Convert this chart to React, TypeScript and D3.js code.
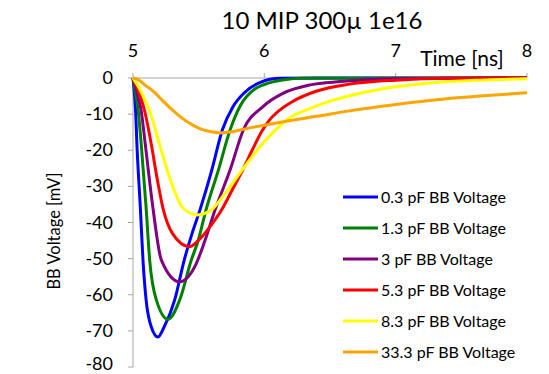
import React from "react";
import * as d3 from "d3";

const seriesNames = [
  "0.3 pF BB Voltage",
  "1.3 pF BB Voltage",
  "3 pF BB Voltage",
  "5.3 pF BB Voltage",
  "8.3 pF BB Voltage",
  "33.3 pF BB Voltage",
];
const seriesColors = ["#0000FF", "#008000", "#800080", "#FF0000", "#FFFF00", "#FFA500"];

const xTicks = [5, 6, 7, 8];
const yTicks = [0, -10, -20, -30, -40, -50, -60, -70, -80];

const blueT = [5.0, 5.01, 5.02, 5.03, 5.056, 5.076, 5.1, 5.14, 5.19, 5.236, 5.317, 5.39, 5.45, 5.51, 5.6, 5.68, 5.76, 5.85, 5.97, 6.12, 6.5, 8.0];
const blueV = [0, -4, -9.2, -18.5, -36, -50.4, -61.5, -69, -71.7, -69, -61.5, -50.4, -43, -36.5, -25.5, -14.4, -8, -4, -1.2, -0.1, 0, 0];

const greenT = [5.0, 5.02, 5.04, 5.063, 5.1, 5.127, 5.178, 5.267, 5.355, 5.444, 5.497, 5.556, 5.65, 5.739, 5.82, 5.93, 6.0, 6.15, 6.3, 8.0];
const greenV = [0, -4.5, -9.2, -18.5, -36, -50.4, -61.5, -66.8, -61.5, -50.4, -44.9, -36.5, -25.5, -14.4, -7.5, -3, -1.8, -0.5, -0.1, 0];

const purpleT = [5.0, 5.03, 5.063, 5.094, 5.152, 5.216, 5.355, 5.42, 5.48, 5.548, 5.625, 5.739, 5.84, 5.99, 6.145, 6.35, 6.58, 7.0, 8.0];
const purpleV = [0, -4, -9.2, -18.5, -36, -50.4, -56.4, -55, -51.5, -45, -36.5, -25.5, -14.4, -7.9, -4.2, -1.9, -1.0, -0.2, 0];

const redT = [5.0, 5.04, 5.089, 5.14, 5.183, 5.228, 5.3, 5.43, 5.51, 5.59, 5.675, 5.755, 5.835, 5.91, 5.98, 6.04, 6.12, 6.22, 6.4, 6.65, 7.0, 7.4, 8.0];
const redV = [0, -3.5, -9.2, -18.5, -27.7, -36, -43, -46.7, -44.5, -41, -36.5, -31, -25.5, -19.8, -14.8, -11.6, -8.8, -6.4, -3.6, -1.7, -0.6, -0.1, 0];

const yellowT = [5.0, 5.05, 5.127, 5.203, 5.28, 5.38, 5.485, 5.58, 5.7, 5.84, 5.99, 6.12, 6.17, 6.35, 6.5, 6.65, 6.88, 7.26, 7.64, 8.0];
const yellowV = [0, -3, -9.2, -18.5, -27.7, -36, -37.9, -37, -32, -25, -18, -13.2, -11.6, -8.4, -6.4, -4.9, -3.1, -1.4, -0.6, -0.2];

const orangeT = [5.0, 5.05, 5.089, 5.152, 5.216, 5.28, 5.343, 5.4, 5.47, 5.53, 5.6, 5.66, 5.75, 5.89, 6.0, 6.145, 6.4, 6.65, 6.88, 7.26, 7.64, 8.0];
const orangeV = [0, -0.7, -1.9, -3.6, -5.9, -8.2, -10.2, -11.8, -13.3, -14.3, -14.9, -15.2, -14.9, -13.8, -13.1, -12.1, -10.6, -9.1, -7.9, -6.2, -5.0, -4.1];

const seriesT = [blueT, greenT, purpleT, redT, yellowT, orangeT];
const seriesV = [blueV, greenV, purpleV, redV, yellowV, orangeV];

const FONT = "Lato, 'Open Sans', sans-serif";

export default function App() {
  const x = d3.scaleLinear().domain([5, 8]).range([133, 527]);
  const y = d3.scaleLinear().domain([0, -80]).range([78, 367]);
  const line = d3
    .line<[number, number]>()
    .x((d) => x(d[0]))
    .y((d) => y(d[1]))
    .curve(d3.curveMonotoneX);

  const axisColor = "#a6a6a6";

  return (
    <svg
      width={549}
      height={374}
      style={{ position: "absolute", left: 0, top: 0, background: "#fff" }}
      fontFamily={FONT}
    >
      <rect x={0} y={0} width={549} height={374} fill="#fff" />
      <text x={322} y={29} textAnchor="middle" fontSize={24} fill="#000">
        10 MIP 300µ 1e16
      </text>

      {/* x axis (top) */}
      <line x1={x(5)} x2={x(8)} y1={y(0)} y2={y(0)} stroke={axisColor} strokeWidth={1} />
      {xTicks.map((t) => (
        <g key={"xt" + t}>
          <line x1={x(t)} x2={x(t)} y1={y(0) - 5} y2={y(0)} stroke={axisColor} />
          <text x={x(t)} y={57} textAnchor="middle" fontSize={18} fill="#000">
            {t}
          </text>
        </g>
      ))}
      <text x={462} y={66} textAnchor="middle" fontSize={21} fill="#000">
        Time [ns]
      </text>

      {/* y axis */}
      <line x1={x(5)} x2={x(5)} y1={y(0)} y2={y(-80)} stroke={axisColor} strokeWidth={1} />
      {yTicks.map((v) => (
        <g key={"yt" + v}>
          <line x1={x(5) - 5} x2={x(5)} y1={y(v)} y2={y(v)} stroke={axisColor} />
          <text x={113} y={Math.min(y(v) + 6, 370)} textAnchor="end" fontSize={18} fill="#000">
            {v}
          </text>
        </g>
      ))}
      <text
        transform={`translate(60, 231) rotate(-90)`}
        textAnchor="middle"
        fontSize={16.5}
        fill="#000"
      >
        BB Voltage [mV]
      </text>

      {/* series */}
      {seriesT.map((ts, i) => {
        const pts: [number, number][] = ts.map((t, j) => [t, seriesV[i][j]]);
        return (
          <path
            key={"s" + i}
            d={line(pts) || ""}
            fill="none"
            stroke={seriesColors[i]}
            strokeWidth={3}
            strokeLinejoin="round"
          />
        );
      })}

      {/* legend */}
      {seriesNames.map((n, i) => {
        const ly = 197 + i * 31;
        return (
          <g key={"lg" + i}>
            <line x1={343} x2={378} y1={ly} y2={ly} stroke={seriesColors[i]} strokeWidth={3} />
            <text x={381} y={ly + 5.5} fontSize={16} fill="#000">
              {n}
            </text>
          </g>
        );
      })}
    </svg>
  );
}
